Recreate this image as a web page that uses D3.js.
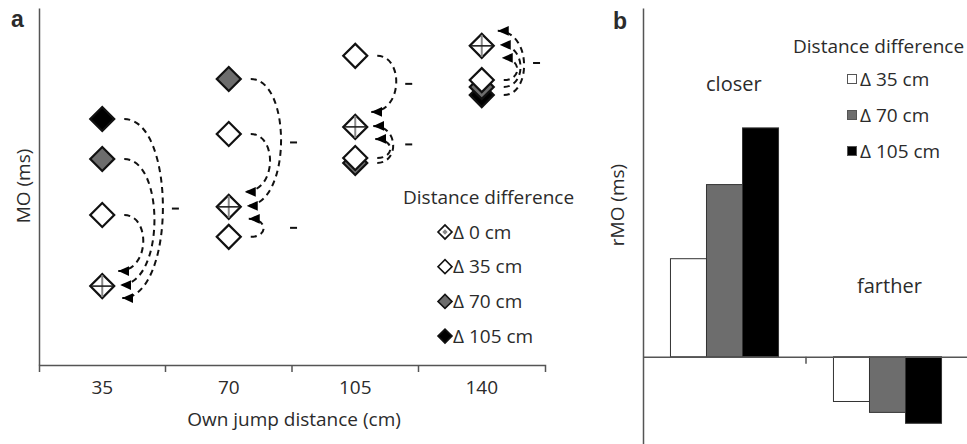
<!DOCTYPE html>
<html>
<head>
<meta charset="utf-8">
<script src="https://cdn.jsdelivr.net/npm/d3@7"></script>
<style>
body { margin: 0; background: #fff; }
svg { display: block; font-family: "Open Sans", Lato, sans-serif; }
text { fill: #2b2b2b; }
</style>
</head>
<body>
<div class="container"></div>
<script>
// panel a: MO (arbitrary units) per own jump distance, one array per partner condition
const ownJump = ["35", "70", "105", "140"];
const moDelta0 = [22.1, 44.3, 66.7, 89.4];
const moDelta35Farther = [42.0, 64.7, 86.6, null];
const moDelta35Closer = [null, 35.9, 58.0, 79.8];
const moDelta70Farther = [57.7, 80.1, null, null];
const moDelta70Closer = [null, null, 56.6, 77.9];
const moDelta105Farther = [68.9, null, null, null];
const moDelta105Closer = [null, null, null, 75.6];
const legendDiffs = [0, 35, 70, 105];

// panel b: relative MO
const rmoGroups = ["closer", "farther"];
const rmoDiffs = [35, 70, 105];
const rmoCloser = [45, 79, 105];
const rmoFarther = [-20.5, -25.5, -30.5];

const W = 967, H = 444;
const FS = 19;
const fillOf = d => ({0: "#fff", 35: "#fff", 70: "#6d6d6d", 105: "#000"})[d];
const axisColor = "#555";

const svg = d3.select(".container").append("svg")
    .attr("width", W)
    .attr("height", H);

svg.append("defs").append("marker")
    .attr("id", "arrow")
    .attr("viewBox", "0 -5 10 10")
    .attr("refX", 10).attr("refY", 0)
    .attr("markerWidth", 11).attr("markerHeight", 11)
    .attr("markerUnits", "userSpaceOnUse")
    .attr("orient", "auto")
    .append("path")
    .attr("d", "M0,-4.5L10,0L0,4.5Z")
    .attr("fill", "#000");

// ---------- panel a ----------
const x = d3.scaleBand().domain(ownJump).range([39, 545]);
const y = d3.scaleLinear().domain([0, 100]).range([365, 8]);
const cx = d => x(d) + x.bandwidth() / 2;

const series = [
  {diff: 105, mo: moDelta105Farther}, {diff: 105, mo: moDelta105Closer},
  {diff: 70, mo: moDelta70Farther}, {diff: 70, mo: moDelta70Closer},
  {diff: 35, mo: moDelta35Farther}, {diff: 35, mo: moDelta35Closer},
  {diff: 0, mo: moDelta0}
];
const points = series.flatMap(s => s.mo
    .map((v, i) => v == null ? null : {own: ownJump[i], diff: s.diff, mo: v})
    .filter(Boolean));

// axes
const gA = svg.append("g");
gA.append("g")
    .attr("transform", "translate(39,0)")
    .call(d3.axisLeft(y).ticks(0).tickSizeOuter(0))
    .call(g => g.select(".domain").attr("stroke", axisColor).attr("stroke-width", 1.5));

gA.append("g")
    .attr("transform", "translate(0,365)")
    .call(d3.axisBottom(x).tickSize(0).tickSizeOuter(7).tickPadding(16))
    .call(g => g.select(".domain").attr("stroke", axisColor).attr("stroke-width", 1.5))
    .call(g => g.selectAll(".tick text").attr("font-size", FS).attr("font-family", "Open Sans").attr("fill", "#2b2b2b"));

// ticks between categories
gA.selectAll(".sep")
    .data(ownJump.slice(1))
    .join("line")
    .attr("x1", d => x(d)).attr("x2", d => x(d))
    .attr("y1", 365).attr("y2", 372)
    .attr("stroke", axisColor).attr("stroke-width", 1.5);

gA.append("text")
    .attr("x", 294).attr("y", 426)
    .attr("text-anchor", "middle")
    .attr("font-size", FS)
    .text("Own jump distance (cm)");

gA.append("text")
    .attr("transform", "translate(30,186) rotate(-90)")
    .attr("text-anchor", "middle")
    .attr("font-size", FS)
    .text("MO (ms)");

gA.append("text")
    .attr("x", 11).attr("y", 27)
    .attr("font-family", "Liberation Sans, Arial, sans-serif")
    .attr("font-weight", "bold")
    .attr("font-size", 23)
    .attr("fill", "#111")
    .text("a");

// dashed arcs from every condition to the Δ0 marker of the same column
const slotDx = [16, 18, 20], slotDy = [-15, -1, 12];
const arcs = [], nsMarks = [];
ownJump.forEach((own, i) => {
  const c = cx(own), y0 = y(moDelta0[i]);
  const others = points.filter(p => p.own === own && p.diff > 0);
  const near = (a, b) => Math.abs(y(a.mo) - y0) - Math.abs(y(b.mo) - y0);
  const above = others.filter(p => y(p.mo) < y0).sort(near);
  const below = others.filter(p => y(p.mo) > y0).sort(near);
  const colArcs = [];
  above.forEach((p, k) => colArcs.push({p, slot: k, group: "above"}));
  below.forEach((p, k) => colArcs.push({p, slot: 2 - k, group: "below"}));
  colArcs.forEach(a => {
    const sx = c + 22, sy = y(a.p.mo);
    const ex = c + slotDx[a.slot], ey = y0 + slotDy[a.slot];
    const m = c + 32 + 0.16 * Math.abs(sy - ey);
    const b = (m - (sx + ex) / 8) / 0.75;
    a.d = `M${sx},${sy}C${b},${sy} ${b},${ey} ${ex},${ey}`;
    a.m = m; a.sy = sy; a.ey = ey;
  });
  const maxM = d3.max(colArcs, a => a.m);
  ["above", "below"].forEach(g => {
    const ga = colArcs.filter(a => a.group === g);
    if (!ga.length) return;
    const ext = d3.extent(ga.flatMap(a => [a.sy, a.ey]));
    nsMarks.push({x: maxM + 9, y: (ext[0] + ext[1]) / 2});
  });
  arcs.push(...colArcs);
});

gA.selectAll(".arc")
    .data(arcs)
    .join("path")
    .attr("d", d => d.d)
    .attr("fill", "none")
    .attr("stroke", "#111")
    .attr("stroke-width", 2)
    .attr("stroke-dasharray", "6,4.5")
    .attr("marker-end", "url(#arrow)");

gA.selectAll(".ns")
    .data(nsMarks)
    .join("line")
    .attr("x1", d => d.x).attr("x2", d => d.x + 7)
    .attr("y1", d => d.y).attr("y2", d => d.y)
    .attr("stroke", "#111").attr("stroke-width", 2);

// markers
const bigDiamond = d3.symbol(d3.symbolSquare, 288)();
const smallDiamond = d3.symbol(d3.symbolSquare, 98)();

const marks = gA.selectAll(".pt")
    .data(points)
    .join("g")
    .attr("transform", d => `translate(${cx(d.own)},${y(d.mo)})`);

marks.append("path")
    .attr("d", bigDiamond)
    .attr("transform", "rotate(45)")
    .attr("fill", d => fillOf(d.diff))
    .attr("stroke", "#111")
    .attr("stroke-width", 2.2);

marks.filter(d => d.diff === 0).append("line")
    .attr("x1", 0).attr("x2", 0).attr("y1", -11).attr("y2", 11)
    .attr("stroke", "#888").attr("stroke-width", 2);
marks.filter(d => d.diff === 0).append("line")
    .attr("x1", -11).attr("x2", 11).attr("y1", 0).attr("y2", 0)
    .attr("stroke", "#222").attr("stroke-width", 1.6);

// legend a
const legA = gA.append("g");
legA.append("text")
    .attr("x", 403).attr("y", 204)
    .attr("font-size", FS)
    .text("Distance difference");

const legRows = legA.selectAll(".row")
    .data(legendDiffs)
    .join("g")
    .attr("transform", (d, i) => `translate(445,${232 + i * 34.7})`);

legRows.append("path")
    .attr("d", smallDiamond)
    .attr("transform", "rotate(45)")
    .attr("fill", d => fillOf(d))
    .attr("stroke", "#111")
    .attr("stroke-width", 1.6);
legRows.filter(d => d === 0).append("path")
    .attr("d", d3.symbol(d3.symbolSquare, 14)())
    .attr("transform", "rotate(45)")
    .attr("fill", "#888");
legRows.append("text")
    .attr("x", 8).attr("y", 6.5)
    .attr("font-size", FS)
    .text(d => `Δ ${d} cm`);

// ---------- panel b ----------
const xb = d3.scaleBand().domain(rmoGroups).range([643, 969])
    .paddingInner(0.337).paddingOuter(0.1685);
const xs = d3.scaleBand().domain(rmoDiffs).range([0, xb.bandwidth()]);
const yb = d3.scaleLinear().domain([-40, 160]).range([444, 8]);
const barFill = d => ({35: "#fff", 70: "#6d6d6d", 105: "#000"})[d];

const gB = svg.append("g");
const bars = rmoGroups.flatMap(g => rmoDiffs.map((d, i) => ({
  group: g, diff: d, value: g === "closer" ? rmoCloser[i] : rmoFarther[i]
})));

gB.selectAll(".bar")
    .data(bars)
    .join("rect")
    .attr("x", d => xb(d.group) + xs(d.diff))
    .attr("width", xs.bandwidth())
    .attr("y", d => yb(Math.max(0, d.value)))
    .attr("height", d => Math.abs(yb(d.value) - yb(0)))
    .attr("fill", d => barFill(d.diff))
    .attr("stroke", "#333")
    .attr("stroke-width", 1);

gB.append("g")
    .attr("transform", "translate(643,0)")
    .call(d3.axisLeft(yb).ticks(0).tickSizeOuter(0))
    .call(g => g.select(".domain").attr("stroke", axisColor).attr("stroke-width", 1.5));

gB.append("g")
    .attr("transform", `translate(0,${yb(0)})`)
    .call(d3.axisBottom(xb).tickSize(0).tickSizeOuter(0).tickFormat(""))
    .call(g => g.select(".domain").attr("stroke", axisColor).attr("stroke-width", 1.5));

gB.selectAll(".sep")
    .data([xb.step() + 643, 969])
    .join("line")
    .attr("x1", d => d).attr("x2", d => d)
    .attr("y1", yb(0)).attr("y2", yb(0) + 7)
    .attr("stroke", axisColor).attr("stroke-width", 1.5);

gB.append("text")
    .attr("x", 706).attr("y", 91)
    .attr("font-size", 20)
    .text("closer");
gB.append("text")
    .attr("x", 857).attr("y", 293)
    .attr("font-size", 20)
    .text("farther");

gB.append("text")
    .attr("transform", "translate(624,205) rotate(-90)")
    .attr("text-anchor", "middle")
    .attr("font-size", FS)
    .text("rMO (ms)");

gB.append("text")
    .attr("x", 613).attr("y", 29)
    .attr("font-family", "Liberation Sans, Arial, sans-serif")
    .attr("font-weight", "bold")
    .attr("font-size", 23)
    .attr("fill", "#111")
    .text("b");

// legend b
const legB = gB.append("g");
legB.append("text")
    .attr("x", 793).attr("y", 53)
    .attr("font-size", FS)
    .text("Distance difference");

const legBRows = legB.selectAll(".row")
    .data(rmoDiffs)
    .join("g")
    .attr("transform", (d, i) => `translate(852,${79 + i * 36})`);
legBRows.append("rect")
    .attr("x", -4.5).attr("y", -4.5)
    .attr("width", 9).attr("height", 9)
    .attr("fill", d => barFill(d))
    .attr("stroke", "#555").attr("stroke-width", 1);
legBRows.append("text")
    .attr("x", 8).attr("y", 6.5)
    .attr("font-size", FS)
    .text(d => `Δ ${d} cm`);
</script>
</body>
</html>
